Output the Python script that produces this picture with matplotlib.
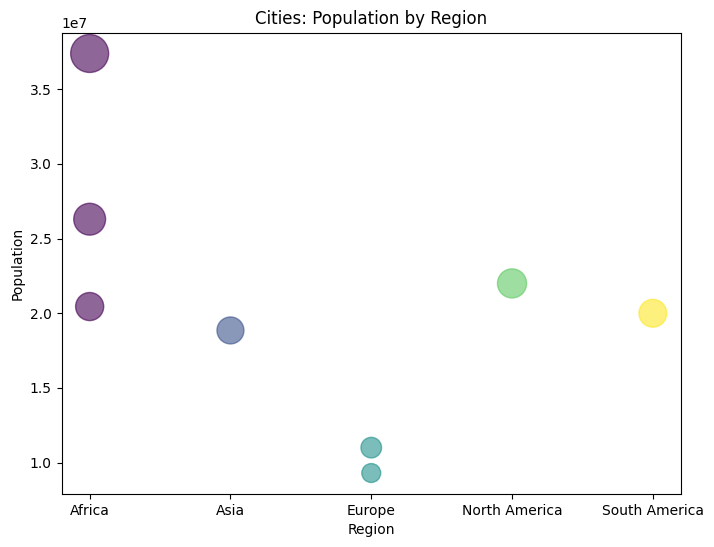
import numpy as np
import matplotlib
matplotlib.use("Agg")
import matplotlib.pyplot as plt

# datos
regiones = ["Africa", "Asia", "Europe", "North America", "South America"]
region_ciudad = ["Africa", "Africa", "Africa", "Asia", "Europe", "Europe",
                 "North America", "South America"]
poblacion = [37.4e6, 26.3e6, 20.45e6, 18.85e6, 11.0e6, 9.3e6, 22.0e6, 20.0e6]

codigos = np.array([regiones.index(r) for r in region_ciudad])
poblacion = np.array(poblacion)

fig = plt.figure(figsize=(7.14, 5.47), dpi=100)
ax = fig.add_axes([61.5 / 714, 53 / 547, 619.5 / 714, 461.5 / 547])

ax.scatter(codigos, poblacion, s=poblacion / 5e4, c=codigos, cmap="viridis", alpha=0.6)
ax.set_xticks(range(len(regiones)))
ax.set_xticklabels(regiones)
ax.set_title("Cities: Population by Region")
ax.set_xlabel("Region")
ax.set_ylabel("Population")

fig.savefig("out.png", dpi=100)
